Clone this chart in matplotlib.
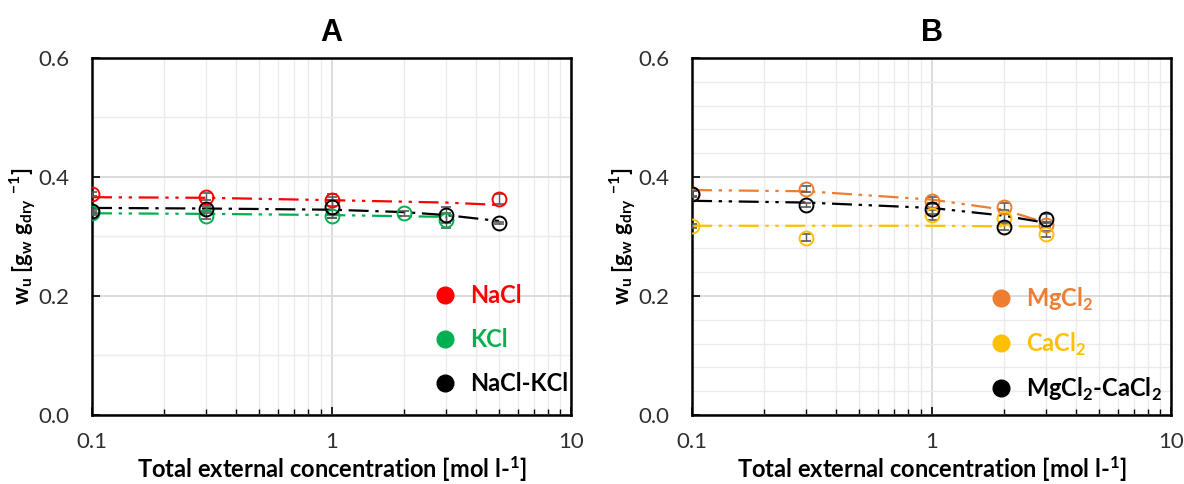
import matplotlib
matplotlib.use("Agg")
import matplotlib.pyplot as plt
from matplotlib.lines import Line2D
from matplotlib.ticker import MultipleLocator, LogLocator, NullFormatter

plt.rcParams['font.family'] = ['Lato', 'DejaVu Sans']
plt.rcParams['mathtext.fontset'] = 'custom'
plt.rcParams['mathtext.rm'] = 'Lato'
plt.rcParams['mathtext.bf'] = 'Lato:bold'

# ---------------- Data: panel A ----------------
nacl_x = [0.1, 0.3, 1, 5]
nacl_y = [0.371, 0.367, 0.361, 0.363]
nacl_err = [0.003, 0.006, 0.010, 0.008]
nacl_fit_x = [0.1, 0.3, 1, 3, 5]
nacl_fit_y = [0.366, 0.365, 0.361, 0.357, 0.353]

kcl_x = [0.1, 0.3, 1, 2, 3]
kcl_y = [0.339, 0.334, 0.334, 0.339, 0.327]
kcl_err = [0.003, 0.005, 0.003, 0.004, 0.012]
kcl_fit_x = [0.1, 0.3, 1, 2, 3]
kcl_fit_y = [0.339, 0.338, 0.336, 0.334, 0.333]

mix_a_x = [0.1, 0.3, 1, 3, 5]
mix_a_y = [0.343, 0.347, 0.349, 0.336, 0.323]
mix_a_err = [0.003, 0.004, 0.018, 0.014, 0.002]
mix_a_fit_x = [0.1, 0.3, 1, 2, 3, 5]
mix_a_fit_y = [0.348, 0.347, 0.345, 0.341, 0.336, 0.326]

# ---------------- Data: panel B ----------------
mg_x = [0.1, 0.3, 1, 2, 3]
mg_y = [0.372, 0.380, 0.360, 0.350, 0.320]
mg_err = [0.004, 0.005, 0.006, 0.006, 0.004]
mg_fit_x = [0.1, 0.3, 1, 2, 3]
mg_fit_y = [0.378, 0.376, 0.362, 0.345, 0.323]

ca_x = [0.1, 0.3, 1, 2, 3]
ca_y = [0.318, 0.298, 0.336, 0.331, 0.304]
ca_err = [0.003, 0.006, 0.008, 0.007, 0.005]
ca_fit_x = [0.1, 0.3, 1, 2, 3]
ca_fit_y = [0.318, 0.318, 0.318, 0.317, 0.317]

mix_b_x = [0.1, 0.3, 1, 2, 3]
mix_b_y = [0.372, 0.353, 0.347, 0.316, 0.330]
mix_b_err = [0.005, 0.004, 0.010, 0.005, 0.008]
mix_b_fit_x = [0.1, 0.3, 1, 2, 3]
mix_b_fit_y = [0.360, 0.357, 0.348, 0.335, 0.323]

panel_titles = ["A", "B"]
legend_a = ["NaCl", "KCl", "NaCl-KCl"]
legend_b = ["MgCl$_\\mathbf{2}$", "CaCl$_\\mathbf{2}$", "MgCl$_\\mathbf{2}$-CaCl$_\\mathbf{2}$"]
xtick_vals = [0.1, 1, 10]
xtick_labels = ["0.1", "1", "10"]
ytick_vals = [0.0, 0.2, 0.4, 0.6]
ytick_labels = ["0.0", "0.2", "0.4", "0.6"]

RED = "#FF0000"
GREEN = "#00B050"
BLACK = "#000000"
ORANGE = "#ED7D31"
YELLOW = "#FFC000"
ERRC = "#595959"

ls_ddot = (0, (9, 3, 1.5, 3, 1.5, 3))
ls_dot = (0, (9, 3, 1.5, 3))

fig = plt.figure(figsize=(11.84, 4.84), dpi=100)
axA = fig.add_axes([0.0777, 0.1426, 0.4046, 0.7376])
axB = fig.add_axes([0.5845, 0.1426, 0.4046, 0.7376])


def style(ax, title, minor_step):
    ax.set_xscale('log')
    ax.set_xlim(0.1, 10)
    ax.set_ylim(0, 0.6)
    ax.set_xticks(xtick_vals)
    ax.set_xticklabels(xtick_labels)
    ax.set_yticks(ytick_vals)
    ax.set_yticklabels(ytick_labels)
    ax.xaxis.set_minor_locator(LogLocator(base=10, subs=range(2, 10)))
    ax.xaxis.set_minor_formatter(NullFormatter())
    ax.yaxis.set_minor_locator(MultipleLocator(minor_step))
    ax.grid(True, which='minor', color='#EBEBEB', lw=1.0, zorder=0)
    ax.grid(True, which='major', color='#D9D9D9', lw=1.3, zorder=0)
    ax.set_axisbelow(True)
    ax.tick_params(which='major', direction='in', length=6, width=1.2,
                   labelsize=16, colors='black', labelcolor='#303030')
    ax.tick_params(axis='x', which='major', pad=12)
    ax.tick_params(axis='y', which='major', pad=16)
    ax.tick_params(which='minor', direction='in', length=4, width=1.0)
    ax.tick_params(axis='y', which='minor', length=0)
    for sp in ax.spines.values():
        sp.set_linewidth(1.8)
    ax.set_title(title, fontsize=22, fontweight='bold', family='Liberation Sans', pad=12)
    ax.set_xlabel("Total external concentration [mol l-$\\mathbf{^1}$]",
                  fontsize=17, fontweight='bold', labelpad=2)
    ax.set_ylabel("w$_\\mathbf{u}$ [g$_\\mathbf{w}$ g$_\\mathbf{dry}$ $\\mathbf{^{-1}}$]",
                  fontsize=16, fontweight='bold', labelpad=0)


def series(ax, x, y, err, fx, fy, color, ls):
    ax.plot(fx, fy, color=color, ls=ls, lw=1.6, zorder=3)
    ax.errorbar(x, y, yerr=err, fmt='none', ecolor=ERRC, elinewidth=1.0,
                capsize=3.5, capthick=1.2, zorder=4)
    ax.plot(x, y, ls='none', marker='o', ms=10, mfc='none', mec=color,
            mew=1.4, zorder=5)


style(axA, panel_titles[0], 0.1)
style(axB, panel_titles[1], 0.04)

series(axA, nacl_x, nacl_y, nacl_err, nacl_fit_x, nacl_fit_y, RED, ls_ddot)
series(axA, kcl_x, kcl_y, kcl_err, kcl_fit_x, kcl_fit_y, GREEN, ls_ddot)
series(axA, mix_a_x, mix_a_y, mix_a_err, mix_a_fit_x, mix_a_fit_y, BLACK, ls_dot)

series(axB, mg_x, mg_y, mg_err, mg_fit_x, mg_fit_y, ORANGE, ls_ddot)
series(axB, ca_x, ca_y, ca_err, ca_fit_x, ca_fit_y, YELLOW, ls_ddot)
series(axB, mix_b_x, mix_b_y, mix_b_err, mix_b_fit_x, mix_b_fit_y, BLACK, ls_ddot)


def legend(ax, labels, colors, anchor, spacing):
    handles = [Line2D([], [], ls='none', marker='o', ms=12, color=c) for c in colors]
    leg = ax.legend(handles, labels, loc='upper left', bbox_to_anchor=anchor,
                    frameon=False, fontsize=17, labelspacing=spacing,
                    handletextpad=0.55, borderaxespad=0, borderpad=0,
                    handlelength=1.0)
    for t, c in zip(leg.get_texts(), colors):
        t.set_color(c)
        t.set_fontweight('bold')


legend(axA, legend_a, [RED, GREEN, BLACK], (0.712, 0.367), 0.9)
legend(axB, legend_b, [ORANGE, YELLOW, BLACK], (0.62, 0.362), 0.75)

fig.savefig("out.png", dpi=100)
